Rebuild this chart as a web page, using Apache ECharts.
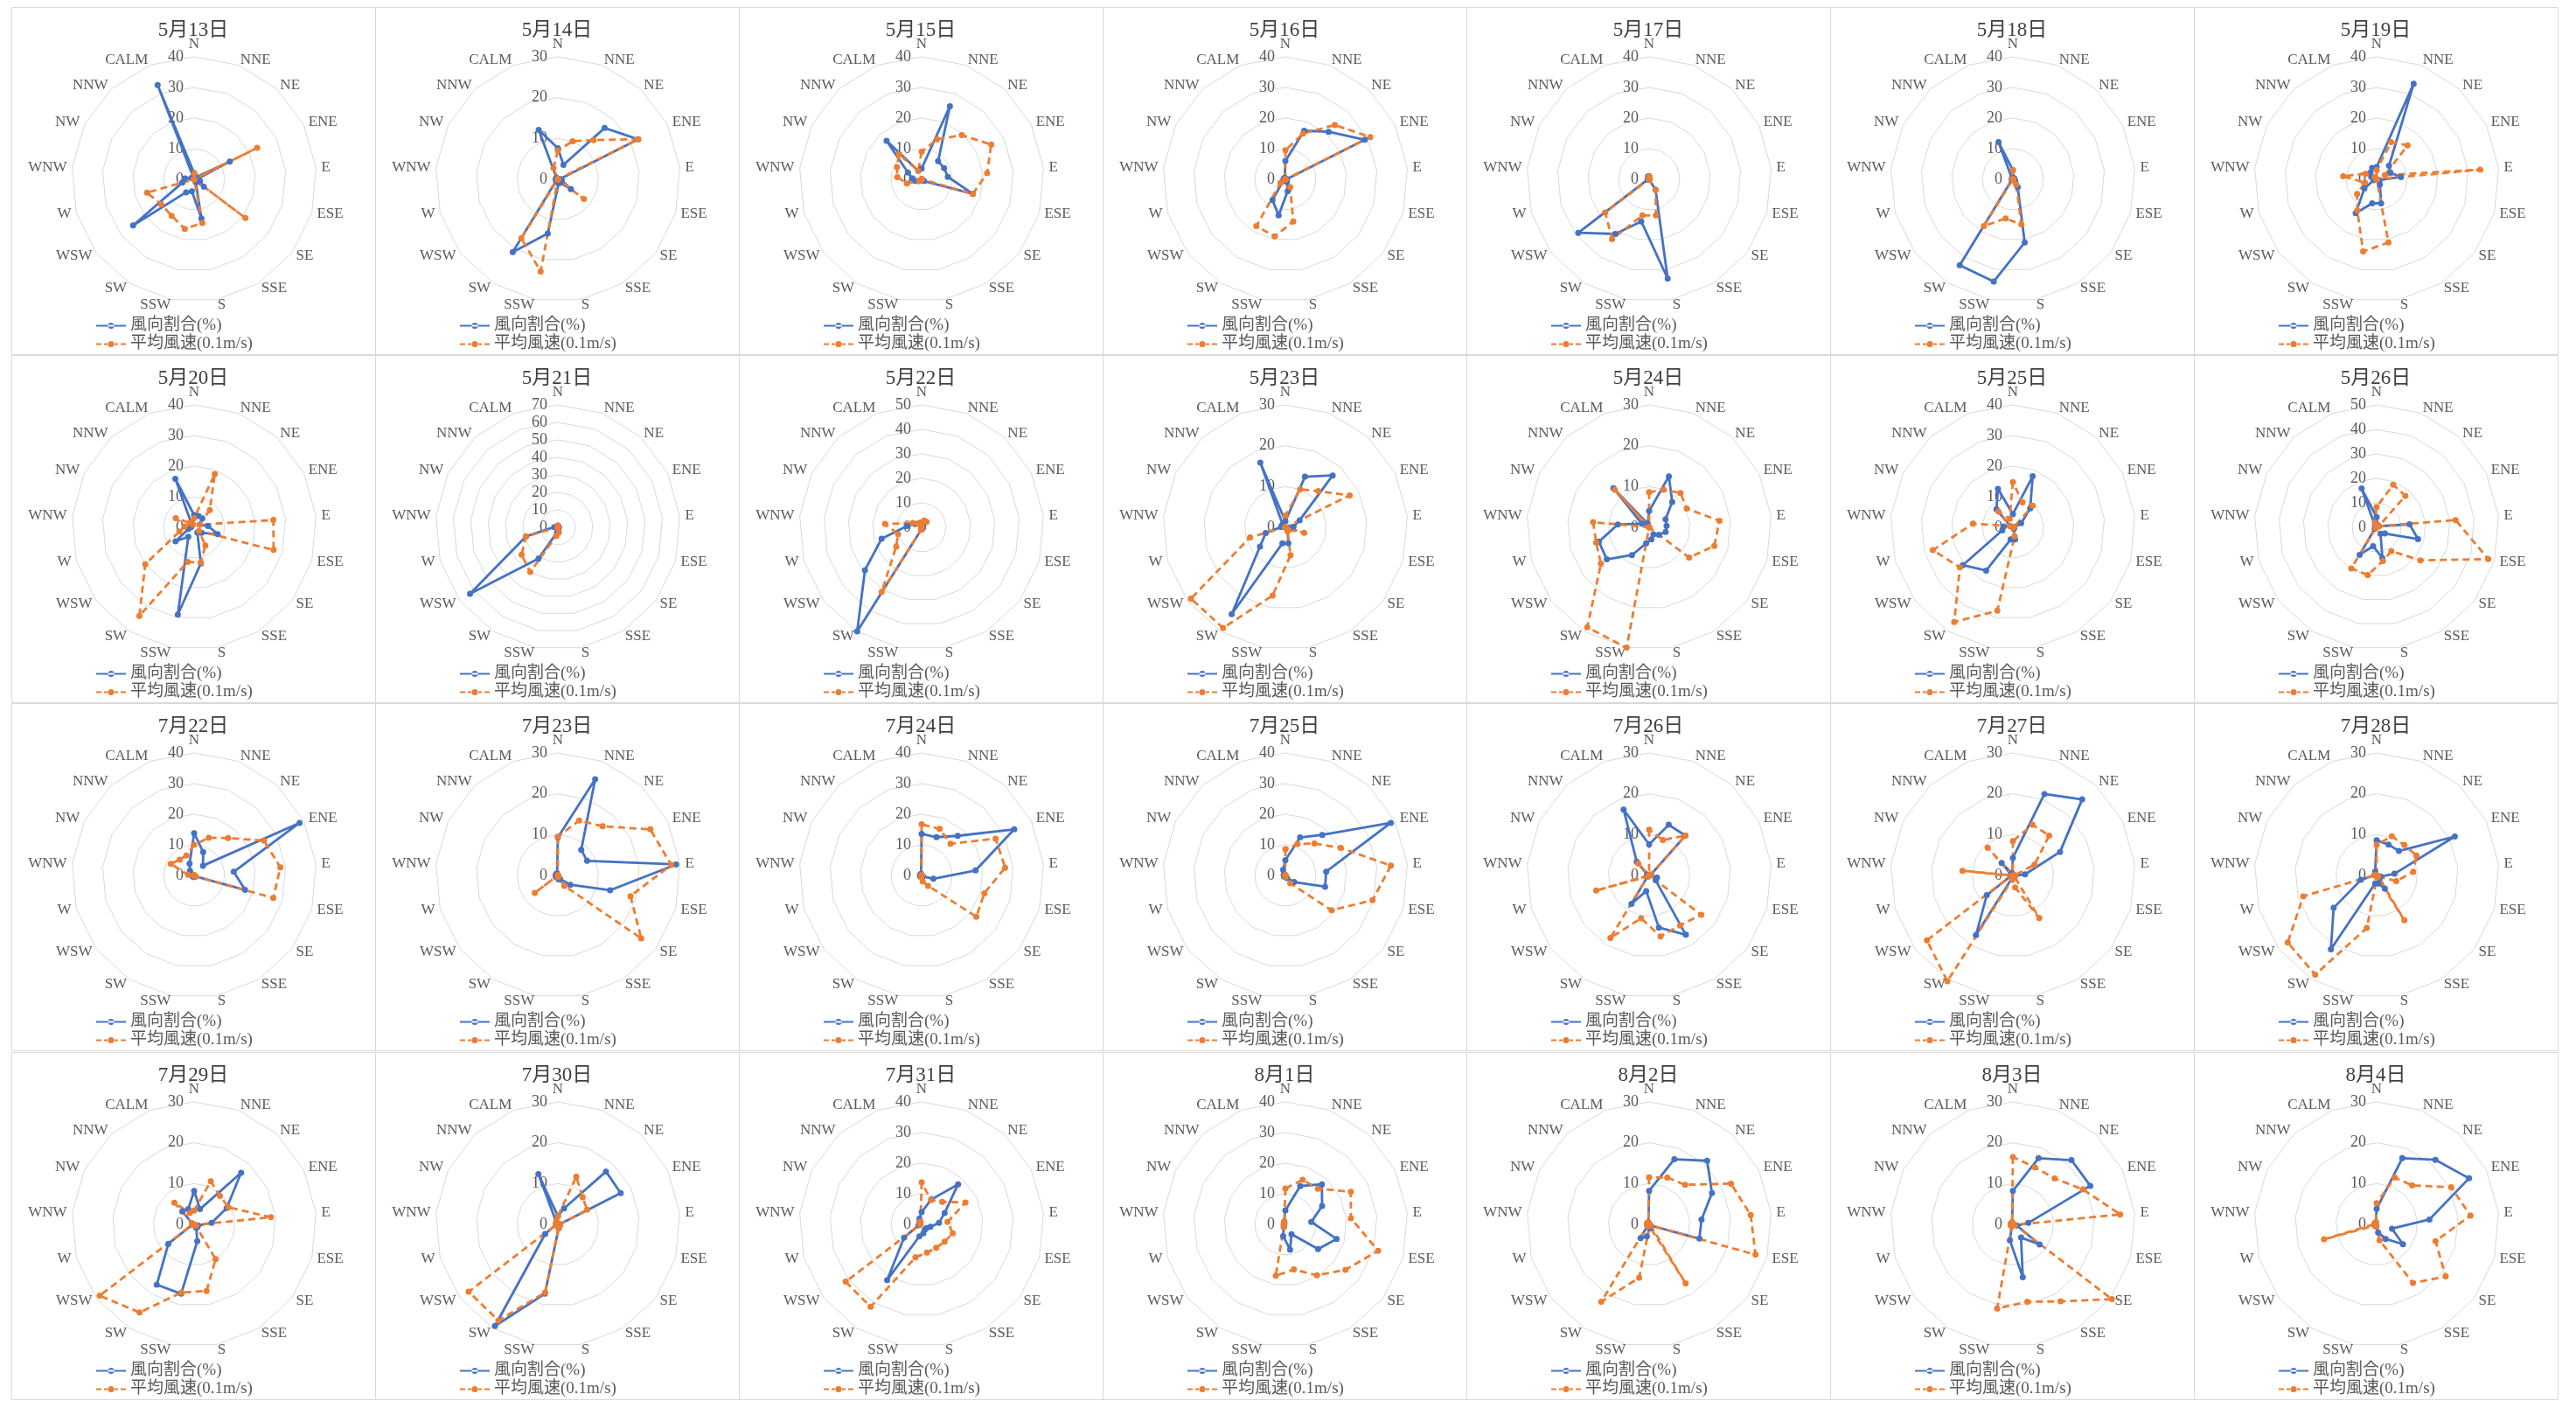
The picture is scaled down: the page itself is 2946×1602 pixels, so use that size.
<!DOCTYPE html>
<html>
<head>
<meta charset="utf-8">
<script src="https://cdn.jsdelivr.net/npm/echarts@6/dist/echarts.min.js"></script>
<style>
  html, body { margin: 0; padding: 0; background: #ffffff; }
  #chart { width: 2946px; height: 1602px; }
</style>
</head>
<body>
<div id="chart"></div>
<script>
// Wind direction categories, clockwise from north, plus calm
const directions = ['N','NNE','NE','ENE','E','ESE','SE','SSE','S','SSW','SW','WSW','W','WNW','NW','NNW','CALM'];

const dates = [
  '5月13日','5月14日','5月15日','5月16日','5月17日','5月18日','5月19日',
  '5月20日','5月21日','5月22日','5月23日','5月24日','5月25日','5月26日',
  '7月22日','7月23日','7月24日','7月25日','7月26日','7月27日','7月28日',
  '7月29日','7月30日','7月31日','8月1日','8月2日','8月3日','8月4日'
];

// Outer ring value of each day's radar (rings every 10)
const scaleMax = [
  40, 30, 40, 40, 40, 40, 40,
  40, 70, 50, 30, 30, 40, 50,
  40, 30, 40, 40, 30, 30, 30,
  30, 30, 40, 40, 30, 30, 30
];

const seriesNames = ['風向割合(%)', '平均風速(0.1m/s)'];

// 風向割合(%) per day, in the order of `directions`
const windShare = [
  [2, 1, 1, 13, 1, 2, 4, 1, 13, 4, 5, 25, 4, 3, 1, 0, 33],
  [7.6, 3.8, 17, 22, 0.5, 1, 4, 1, 1, 13.5, 21, 0.5, 0.5, 0.5, 0.5, 0.5, 13],
  [3.5, 25.6, 8, 8.2, 8.6, 17.4, 1, 0, 0, 0, 0, 1, 2, 3, 5, 17, 3],
  [6, 17, 21, 29, 0.5, 0.5, 0.5, 1, 4, 12, 8, 1, 0.5, 0.5, 0.5, 0.5, 0.5],
  [1, 0, 0, 0, 0, 0, 0, 4, 33, 14, 21, 29, 0.5, 0, 0, 0, 1],
  [3, 0.5, 0.5, 0.5, 0.5, 0.5, 1, 3, 21, 34, 33, 0.5, 0, 0, 0, 0.5, 13],
  [4, 33.5, 6, 5, 8, 1, 1, 2, 8, 8, 13, 5, 1, 1, 2, 3, 4],
  [4, 4, 4, 2, 4.6, 8, 3, 2, 12, 29, 3.6, 7.6, 2, 1, 1, 1, 17],
  [1, 0.5, 0.5, 0.5, 0.5, 0.5, 0.5, 0.5, 2, 3, 21, 63, 19, 2, 0.5, 0.5, 0.5],
  [2, 2, 1, 0.5, 0.5, 0.5, 0.5, 0.5, 0.5, 1, 50, 29, 17, 6, 3, 2, 1],
  [1.5, 13.3, 17.2, 3.9, 2, 1, 1, 1, 4, 4, 25, 7.8, 5, 1, 1, 1, 17],
  [4, 13.4, 8.4, 4.5, 4.3, 4.2, 3, 2, 3, 4, 8, 13, 12.8, 7.7, 2, 13, 1],
  [4.3, 17.9, 8.4, 3, 0.5, 0.5, 0.5, 0.5, 4, 4, 16.6, 20.5, 3.6, 3, 1, 8, 13.5],
  [4.2, 1, 1, 1, 13.5, 17.6, 4.2, 3, 12.8, 7.8, 13.2, 1, 0.5, 0.5, 0.5, 1, 17],
  [13.8, 8.2, 4.3, 38.5, 13, 17.3, 0.5, 0.5, 0.5, 0.5, 0.5, 0.5, 0.5, 0.5, 1, 2, 4.1],
  [9.3, 25.3, 8.5, 8, 29.1, 13.3, 3.8, 1, 1, 0.5, 0.5, 0.5, 0.5, 0.5, 0.5, 0.5, 0.5],
  [13.6, 13.4, 17.5, 33.8, 17.7, 4, 0.5, 0.5, 0.5, 0.5, 0.5, 0.5, 0.5, 0.5, 0.5, 0.5, 0.5],
  [5, 13.3, 17.9, 38.5, 13.4, 13.5, 3.6, 1, 0.5, 0.5, 0.5, 0.5, 0.5, 0.5, 0.5, 0.5, 2],
  [7.6, 13.3, 13.2, 0.5, 0.5, 2, 2, 17.1, 13, 3.9, 8.2, 0.5, 0.5, 0.5, 0.5, 4.5, 17.3],
  [4.3, 21.4, 25.2, 12.9, 3, 0.5, 0.5, 0.5, 0.5, 0.5, 17.2, 8, 0.5, 0.5, 0.5, 4.1, 0.5],
  [8.6, 8.1, 8.1, 21.4, 4.4, 1, 1, 3.8, 2, 2, 21.3, 13.2, 4, 0.5, 0.5, 0.5, 1],
  [8.2, 4, 17.1, 8.9, 4.3, 1, 1, 1, 4.2, 17.3, 17.4, 7.9, 0.5, 0.5, 0.5, 4.3, 4],
  [2, 4.2, 17.5, 17.2, 0.5, 0.5, 0.5, 0.5, 1, 17.3, 29.3, 3.9, 0.5, 0.5, 0.5, 0.5, 13.2],
  [4, 8.7, 17.7, 8.4, 5.7, 3, 2, 2, 3, 4, 21.4, 7.2, 1, 0.5, 0.5, 1, 2],
  [4.6, 13.4, 17.7, 13.4, 8.5, 17.4, 13.4, 3.8, 8.4, 3.9, 1, 0.5, 0.5, 0.5, 0.5, 0.5, 1],
  [8.2, 17.1, 21.1, 17.2, 12.9, 12.8, 0.5, 0.5, 1, 3, 4, 0.5, 0.5, 0.5, 0.5, 0.5, 0.5],
  [8.2, 17.4, 21.3, 21.2, 3.8, 1, 8.2, 3.8, 13.2, 4, 0.5, 0.5, 0.5, 0.5, 0.5, 0.5, 0.5],
  [3.8, 17.4, 21.4, 25.3, 13, 3.9, 8.1, 4.2, 2, 0.5, 0.5, 0.5, 0.5, 0.5, 0.5, 0.5, 0.5]
];

// 平均風速(0.1m/s) per day, in the order of `directions`
const windSpeed = [
  [2, 0, 0, 23, 0, 0, 21, 0, 14.5, 16.5, 14, 13.5, 16, 0, 0, 0, 0],
  [7, 10, 13, 22, 0, 0, 8, 0, 0, 23, 17, 0, 0, 0, 0, 0, 3],
  [9, 14, 19.5, 25.4, 21.5, 17.4, 0, 0, 0, 0, 0, 1, 5, 8, 9, 11, 3],
  [9.5, 16, 24, 31, 0, 0, 0, 3, 14, 19, 18, 2, 0, 0, 0, 0, 0],
  [1, 0, 0, 0, 0, 0, 0, 4, 12, 12, 23, 18, 0, 0, 0, 0, 0],
  [3, 0, 0, 0, 0, 0, 0, 2, 15, 13, 18, 0, 0, 0, 0, 0, 0],
  [3, 13, 15, 3, 34, 0, 0, 0, 21, 24, 12, 8, 4, 11, 4, 1, 0],
  [3, 18.7, 7.6, 2, 26, 27, 2, 7, 11.7, 11.5, 34, 20, 5, 3, 6.7, 2, 1],
  [1, 0, 0, 0, 0, 0, 0, 0, 3, 5, 30, 26, 19, 0, 0, 0, 0],
  [2, 3, 3, 0, 0, 0, 0, 0, 0, 1, 31, 13, 10, 15, 4, 2, 2],
  [2.9, 10, 12, 17.6, 0, 4.8, 1, 1, 6.9, 17, 29, 29, 9, 0, 0, 0, 0],
  [8.6, 9.9, 11.4, 10.3, 17.3, 16.6, 12.3, 0, 0, 30, 28.8, 14.8, 13.5, 13.8, 0, 12.5, 0],
  [14.8, 8.7, 9.6, 0.5, 0, 0, 0, 0, 3, 27.7, 36.4, 21.7, 27.2, 13.1, 1, 7, 3],
  [8.3, 18.7, 17.4, 1, 32.4, 47.4, 22.4, 11.4, 14, 19.8, 19.7, 0.5, 0, 0, 0, 0, 2],
  [10, 13.2, 16.5, 25.5, 28.3, 26.9, 0.5, 0, 0, 0, 0, 0, 0, 2, 8.5, 7, 7],
  [9.5, 14.4, 16.3, 25.3, 27.9, 18.5, 25.6, 3, 0.5, 0, 0, 7.1, 0, 0, 0, 0, 0],
  [16.7, 16.3, 14, 27, 27.4, 21.3, 22.4, 4, 2, 0.5, 0, 0, 0, 0, 0, 0, 0],
  [8.6, 11, 14.1, 20.2, 34.6, 29.6, 18.9, 3, 0.5, 0, 0, 0, 0, 0, 0, 0, 0],
  [11.2, 9.3, 13.2, 0.5, 0, 0, 16, 14.4, 15.2, 10.7, 18, 0.5, 13.5, 0, 0, 4, 0],
  [8.4, 13.3, 13.2, 5.9, 0.5, 0.5, 0.5, 12.3, 3, 1, 30.5, 26.4, 0.5, 12.4, 0, 9.2, 0],
  [7.5, 10.3, 10.1, 10.9, 9, 5, 0.5, 12.9, 0.5, 13.1, 28.6, 27.3, 18.7, 0.5, 0, 0, 0],
  [3.4, 11.3, 9.4, 9.4, 18.9, 0.5, 0.5, 10, 16.6, 17, 25.4, 29, 0.5, 0.5, 0.5, 7.2, 3],
  [2, 12.5, 9, 8, 0.5, 0.5, 0.5, 0.5, 1, 17, 27.7, 27.4, 0.5, 0.5, 0.5, 0.5, 1],
  [13.7, 8.5, 10, 16, 8.5, 10.6, 9.4, 9, 9.4, 11, 31.7, 31.1, 0.5, 0.5, 0.5, 0.5, 1],
  [11.7, 15.6, 15.8, 23.9, 21.5, 31.5, 24.6, 19.6, 15, 17.1, 1, 0.5, 0.5, 0.5, 0.5, 0.5, 1],
  [11.5, 12.3, 13.1, 22.4, 25, 27.1, 0.5, 17, 0.5, 13.3, 22.3, 0.5, 0.5, 0.5, 0.5, 0.5, 0.5],
  [16.5, 15, 15.2, 19.2, 26.4, 0.5, 30.4, 22.2, 19.3, 21, 0.5, 0.5, 0.5, 0.5, 0.5, 0.5, 0.5],
  [5.2, 12.3, 12.9, 20.4, 23.1, 15, 21.2, 16.9, 4, 0.5, 0.5, 0.5, 13.4, 0.5, 0.5, 0.5, 0.5]
];

// ---- styling / layout ----
const BLUE = '#4472C4';
const ORANGE = '#ED7D31';
const TEXT = '#595959';
const GRID = '#D9D9D9';
const FONT = "'Liberation Serif', 'Noto Sans CJK JP', serif";

const COLS = 7;
const PANEL_W = 416;
const PANEL_H = 398;
const PANEL_X0 = 13;
const PANEL_TOPS = [8, 406, 804, 1203];
const RADAR_CX = 209;
const RADAR_CY = 197;
const RADAR_R = 140;

// ECharts lays radar indicators out counter-clockwise; feed them reversed
// (keeping N first) so the compass runs clockwise.
const axisOrder = [0];
for (let i = directions.length - 1; i >= 1; i--) axisOrder.push(i);
const reorder = arr => axisOrder.map(i => arr[i]);

const solidIcon = 'path://M0,3.1H34V4.9H0Z M13.5,4a3.5,3.5 0 1,0 7,0a3.5,3.5 0 1,0 -7,0Z';
const dashIcon = 'path://M0,3.1H6V4.9H0Z M9,3.1H13V4.9H9Z M21,3.1H25V4.9H21Z M28,3.1H34V4.9H28Z M13.5,4a3.5,3.5 0 1,0 7,0a3.5,3.5 0 1,0 -7,0Z';

const radars = [];
const series = [];
const titles = [];
const legends = [];
const frames = [];

dates.forEach((date, k) => {
  const col = k % COLS;
  const row = Math.floor(k / COLS);
  const px = PANEL_X0 + col * PANEL_W;
  const py = PANEL_TOPS[row];
  const max = scaleMax[k];

  frames.push({
    type: 'rect',
    shape: { x: px + 0.5, y: py + 0.5, width: PANEL_W, height: PANEL_H - 1 },
    style: { fill: null, stroke: GRID, lineWidth: 1 },
    silent: true
  });

  titles.push({
    text: date,
    left: px + PANEL_W / 2,
    top: py + 15,
    textAlign: 'center',
    padding: 0,
    textStyle: { fontFamily: FONT, fontSize: 23, fontWeight: 'normal', color: '#404040' }
  });

  radars.push({
    center: [px + RADAR_CX, py + RADAR_CY],
    radius: RADAR_R,
    startAngle: 90,
    shape: 'polygon',
    splitNumber: max / 10,
    nameGap: 6,
    axisName: { color: TEXT, fontFamily: FONT, fontSize: 17 },
    indicator: axisOrder.map((i, n) => {
      const ind = { name: directions[i], min: 0, max: max };
      if (n === 0) ind.axisLabel = { show: true };
      return ind;
    }),
    axisLine: { show: false },
    axisTick: { show: false },
    axisLabel: { show: false, color: TEXT, fontFamily: FONT, fontSize: 18, margin: 12 },
    splitLine: { lineStyle: { color: GRID, width: 1 } },
    splitArea: { show: false }
  });

  series.push({
    type: 'radar',
    radarIndex: k,
    symbol: 'circle',
    symbolSize: 7,
    silent: true,
    data: [
      {
        name: seriesNames[0],
        value: reorder(windShare[k]),
        itemStyle: { color: BLUE },
        lineStyle: { color: BLUE, width: 2.8, type: 'solid' }
      },
      {
        name: seriesNames[1],
        value: reorder(windSpeed[k]),
        itemStyle: { color: ORANGE },
        lineStyle: { color: ORANGE, width: 2.8, type: [8, 5] }
      }
    ]
  });

  legends.push({
    orient: 'vertical',
    left: px + 97,
    top: py + 355,
    height: 60,
    padding: 0,
    itemWidth: 34,
    itemHeight: 8,
    itemGap: 2,
    selectedMode: false,
    textStyle: { fontFamily: FONT, fontSize: 19, color: TEXT },
    data: [
      { name: seriesNames[0], icon: solidIcon },
      { name: seriesNames[1], icon: dashIcon }
    ]
  });
});

const chart = echarts.init(document.getElementById('chart'), null, { renderer: 'canvas' });
chart.setOption({
  backgroundColor: '#ffffff',
  animation: false,
  textStyle: { fontFamily: FONT },
  title: titles,
  legend: legends,
  radar: radars,
  series: series,
  graphic: { elements: frames }
});
</script>
</body>
</html>
